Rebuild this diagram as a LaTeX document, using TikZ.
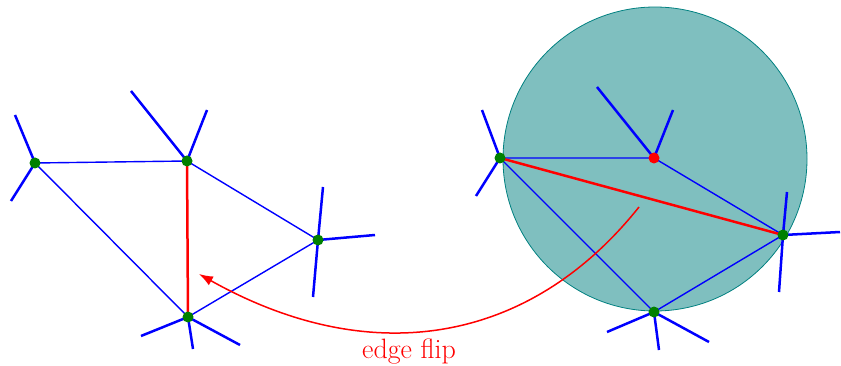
\documentclass[tikz,border=0pt]{standalone}
\usetikzlibrary{arrows.meta}
\begin{document}
\begin{tikzpicture}[x=1pt,y=-1pt,
  spoke/.style={blue,line width=2.5pt},
  edge/.style={blue,line width=1.4pt},
  flipedge/.style={red,line width=2.5pt},
  vtx/.style={circle,fill=green!50!black,inner sep=0pt,minimum size=11pt},
  rvtx/.style={circle,fill=red,inner sep=0pt,minimum size=11pt}]
\useasboundingbox (0,0) rectangle (841,366);
% circle
\node[circle,draw=teal,fill=teal,fill opacity=0.5,draw opacity=1,line width=0.8pt,minimum size=304pt,inner sep=0pt] (circ) at (655,159) {};
% left graph
\coordinate (A) at (35,163);
\coordinate (B) at (187,161);
\coordinate (C) at (318,240);
\coordinate (D) at (188,317);
\coordinate (a1) at (15,115); \coordinate (a2) at (11,201);
\coordinate (b1) at (131,91); \coordinate (b2) at (207,110);
\coordinate (c1) at (375,235); \coordinate (c2) at (323,187); \coordinate (c3) at (313,297);
\coordinate (d1) at (141,336); \coordinate (d2) at (193,349); \coordinate (d3) at (240,345);
\draw[spoke] (A)--(a1) (A)--(a2) (B)--(b1) (B)--(b2) (C)--(c1) (C)--(c2) (C)--(c3) (D)--(d1) (D)--(d2) (D)--(d3);
\draw[edge] (A)--(B) (A)--(D) (B)--(C) (C)--(D);
\draw[flipedge] (B)--(D);
\node[vtx] (nA) at (A) {};
\node[vtx] (nB) at (B) {};
\node[vtx] (nC) at (C) {};
\node[vtx] (nD) at (D) {};
% right graph
\coordinate (P) at (500,158);
\coordinate (Q) at (654,158);
\coordinate (R) at (783,235);
\coordinate (S) at (654,312);
\coordinate (p1) at (482,110); \coordinate (p2) at (476,196);
\coordinate (q1) at (597,87); \coordinate (q2) at (673,110);
\coordinate (r1) at (787,192); \coordinate (r2) at (779,292); \coordinate (r3) at (840,232);
\coordinate (s1) at (607,332); \coordinate (s2) at (659,350); \coordinate (s3) at (709,342);
\draw[spoke] (P)--(p1) (P)--(p2) (Q)--(q1) (Q)--(q2) (R)--(r1) (R)--(r2) (R)--(r3) (S)--(s1) (S)--(s2) (S)--(s3);
\draw[edge] (P)--(Q) (Q)--(R) (P)--(S) (R)--(S);
\draw[flipedge] (P)--(R);
\node[vtx] (nP) at (P) {};
\node[rvtx] (nQ) at (Q) {};
\node[vtx] (nR) at (R) {};
\node[vtx] (nS) at (S) {};
% arrow
\coordinate (st) at (639,207);
\coordinate (en) at (199,274);
\draw[red,line width=1.5pt,-{Latex[length=14pt,width=10pt]}] (st) .. controls (529,345) and (370,370) .. (en);
\node[red,font=\fontsize{28}{32}\selectfont] (lbl) at (409,352) {edge flip};
\end{tikzpicture}
\end{document}
